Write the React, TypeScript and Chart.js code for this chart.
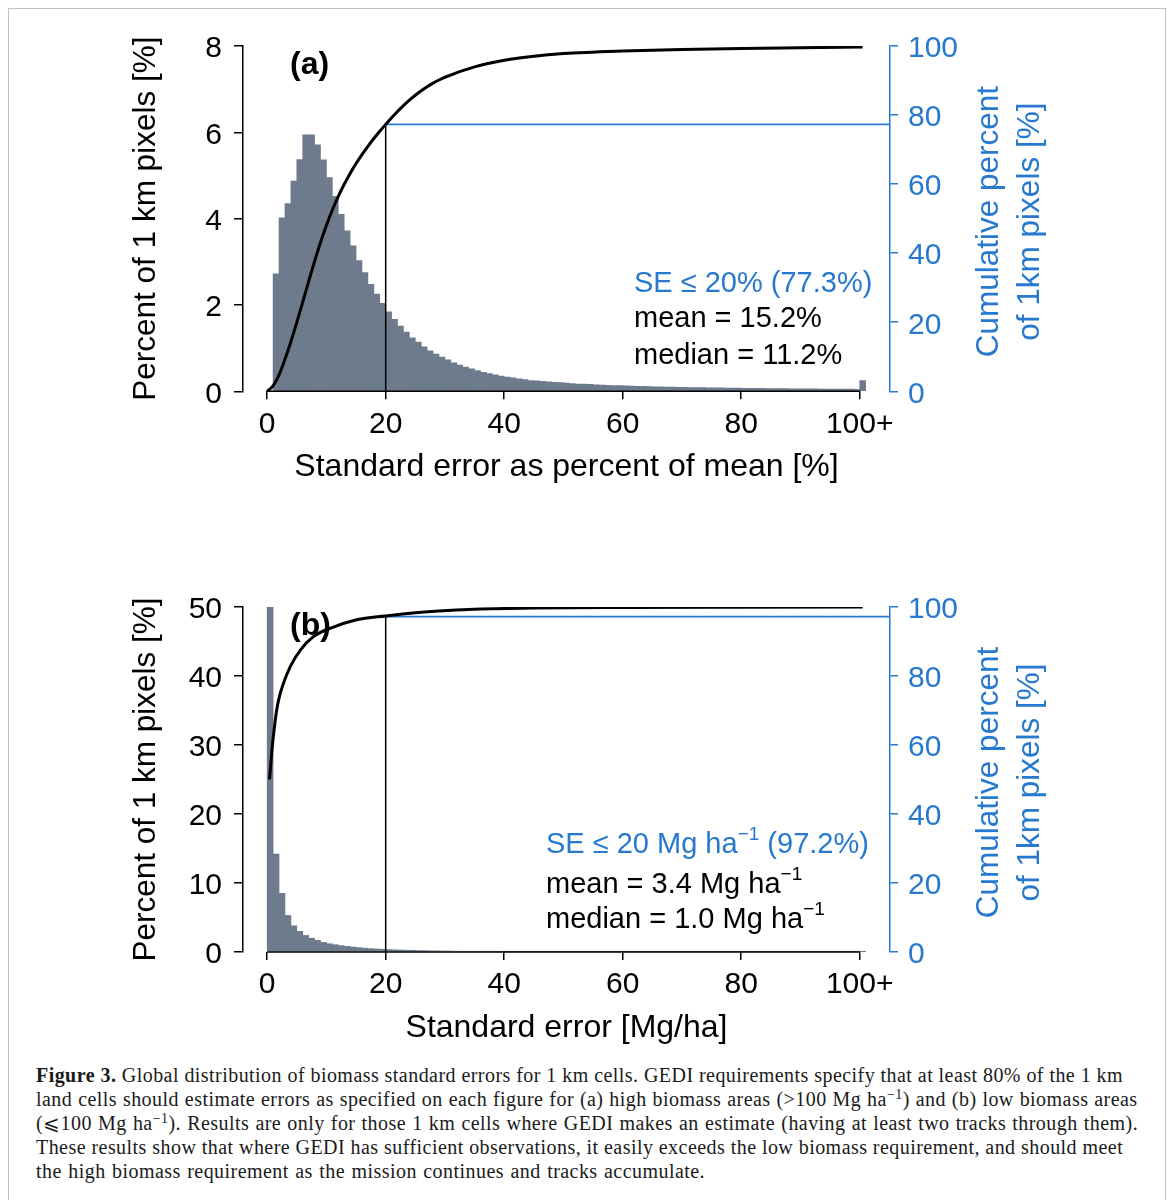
import { useEffect, useRef } from 'react';
import { Chart, registerables } from 'chart.js';

Chart.register(...registerables);

const FONT = '"Liberation Sans", Arial, Helvetica, sans-serif';
const BLUE = '#2679cf';
const BAR = '#6d7b8d';

// ---------- data ----------
const xTicks = [0, 20, 40, 60, 80, 100];
const xTickLabels = ['0', '20', '40', '60', '80', '100+'];
const leftTicksA = [0, 2, 4, 6, 8];
const leftTicksB = [0, 10, 20, 30, 40, 50];
const rightTicks = [0, 20, 40, 60, 80, 100];

// histogram bins (lower edge, width 1); last bin = "100+"
const binsA = Array.from({ length: 100 }, (_, i) => i + 1);
const valsA = [
  2.72, 4.02, 4.35, 4.87, 5.37, 5.94, 5.94, 5.71, 5.36, 4.95,
  4.52, 4.1, 3.72, 3.37, 3.03, 2.75, 2.48, 2.25, 2.04, 1.84,
  1.67, 1.51, 1.37, 1.24, 1.14, 1.03, 0.94, 0.86, 0.79, 0.73,
  0.66, 0.61, 0.56, 0.52, 0.48, 0.44, 0.41, 0.38, 0.35, 0.33,
  0.31, 0.29, 0.27, 0.25, 0.24, 0.23, 0.22, 0.21, 0.2, 0.19,
  0.18, 0.17, 0.165, 0.16, 0.15, 0.145, 0.14, 0.135, 0.13, 0.125,
  0.12, 0.117, 0.113, 0.11, 0.106, 0.103, 0.1, 0.097, 0.094, 0.091,
  0.089, 0.087, 0.085, 0.083, 0.081, 0.079, 0.077, 0.075, 0.073, 0.071,
  0.07, 0.068, 0.067, 0.065, 0.064, 0.062, 0.061, 0.06, 0.058, 0.057,
  0.056, 0.055, 0.054, 0.053, 0.052, 0.051, 0.05, 0.049, 0.048, 0.25,
];
const binsB = Array.from({ length: 101 }, (_, i) => i);
const valsB = [
  50, 14.2, 8.5, 5.3, 3.8, 3.0, 2.4, 2.0, 1.7, 1.4,
  1.2, 1.06, 0.92, 0.82, 0.72, 0.63, 0.55, 0.49, 0.44, 0.4,
  0.36, 0.32, 0.29, 0.26, 0.24, 0.22, 0.2, 0.18, 0.165, 0.15,
  0.14, 0.125, 0.115, 0.105, 0.095, 0.088, 0.08, 0.074, 0.068, 0.062,
  0.057, 0.052, 0.048, 0.044, 0.041, 0.038, 0.035, 0.032, 0.03, 0.028,
  0.026, 0.024, 0.023, 0.022, 0.021, 0.02, 0.019, 0.018, 0.017, 0.016,
  0.015, 0.015, 0.014, 0.014, 0.013, 0.013, 0.012, 0.012, 0.011, 0.011,
  0.01, 0.01, 0.0095, 0.009, 0.009, 0.0085, 0.008, 0.008, 0.0075, 0.007,
  0.007, 0.0065, 0.0065, 0.006, 0.006, 0.006, 0.0055, 0.0055, 0.005, 0.005,
  0.005, 0.005, 0.0045, 0.0045, 0.0045, 0.004, 0.004, 0.004, 0.004, 0.004,
  0.03,
];

// cumulative curves (right axis, %)
const cumAX = [
  0, 1, 2, 3, 4, 5, 6, 7, 8, 9, 10, 11, 12, 13, 14, 15, 16, 17, 18, 19,
  20, 21, 22, 23, 24, 25, 26, 27, 28, 29, 30, 35, 40, 45, 50, 60, 70, 80, 90, 100.5,
];
const cumAY = [
  0, 1.6, 4.75, 9.25, 14.35, 19.95, 25.85, 31.85, 37.65, 43.1, 48.05, 52.5, 56.45, 59.95, 63.1, 65.95, 68.55, 70.95, 73.2, 75.3,
  77.3, 79.22, 81.04, 82.74, 84.31, 85.75, 87.05, 88.21, 89.24, 90.15, 90.95, 93.95, 95.85, 97.05, 97.8, 98.55, 99.0, 99.3, 99.5, 99.7,
];
const cumBX = [0.4, 0.8, 1.1, 1.6, 2.0, 2.75, 3.9, 5.6, 7.8, 10.6, 15.1, 20, 25, 29, 35, 45, 60, 80, 100.5];
const cumBY = [50, 58.5, 63.4, 70.1, 73.6, 77.9, 82.7, 87.5, 91.4, 93.8, 96.3, 97.4, 98.3, 98.85, 99.35, 99.7, 99.87, 99.94, 99.97];

const thresholdA = 20;
const pctA = 77.3;
const thresholdB = 20;
const pctB = 97.2;

// ---------- layout ----------
const X_MIN = -4.08;
const X_MAX = 105.11;
const CANVAS_W = 1171;
const CANVAS_H = 500;

type Seg = { t: string; sup?: boolean };
type Line = { segs: Seg[]; color: string; y: number };

interface PanelCfg {
  label: string;
  bins: number[];
  vals: number[];
  cumX: number[];
  cumY: number[];
  threshold: number;
  pct: number;
  leftTicks: number[];
  leftMax: number;
  xTitle: string;
  statsX: number;
  stats: Line[];
  padBottom: number;
}

const panelA: PanelCfg = {
  label: '(a)',
  bins: binsA,
  vals: valsA,
  cumX: cumAX,
  cumY: cumAY,
  threshold: thresholdA,
  pct: pctA,
  leftTicks: leftTicksA,
  leftMax: 8,
  xTitle: 'Standard error as percent of mean [%]',
  statsX: 634,
  stats: [
    { segs: [{ t: 'SE ≤ 20% (77.3%)' }], color: BLUE, y: 291.7 },
    { segs: [{ t: 'mean = 15.2%' }], color: '#000', y: 327.3 },
    { segs: [{ t: 'median = 11.2%' }], color: '#000', y: 364 },
  ],
  padBottom: 13.7,
};

const panelB: PanelCfg = {
  label: '(b)',
  bins: binsB,
  vals: valsB,
  cumX: cumBX,
  cumY: cumBY,
  threshold: thresholdB,
  pct: pctB,
  leftTicks: leftTicksB,
  leftMax: 50,
  xTitle: 'Standard error [Mg/ha]',
  statsX: 546,
  stats: [
    { segs: [{ t: 'SE ≤ 20 Mg ha' }, { t: '−1', sup: true }, { t: ' (97.2%)' }], color: BLUE, y: 292.3 },
    { segs: [{ t: 'mean = 3.4 Mg ha' }, { t: '−1', sup: true }], color: '#000', y: 331.7 },
    { segs: [{ t: 'median = 1.0 Mg ha' }, { t: '−1', sup: true }], color: '#000', y: 366.7 },
  ],
  padBottom: 14,
};

function makeChart(canvas: HTMLCanvasElement, p: PanelCfg) {
  const decor = {
    id: 'decor',
    afterDatasetsDraw(chart: any) {
      const { ctx, chartArea } = chart;
      const xs = chart.scales.x;
      ctx.save();
      // x axis spine from 0 to 100
      ctx.strokeStyle = '#000';
      ctx.lineWidth = 1.5;
      ctx.beginPath();
      ctx.moveTo(xs.getPixelForValue(xTicks[0]), chartArea.bottom);
      ctx.lineTo(xs.getPixelForValue(xTicks[xTicks.length - 1]), chartArea.bottom);
      ctx.stroke();
      // panel label
      ctx.fillStyle = '#000';
      ctx.font = `bold 32px ${FONT}`;
      ctx.textBaseline = 'alphabetic';
      ctx.textAlign = 'left';
      ctx.fillText(p.label, 290, chartArea.top + 28);
      // stats
      for (const line of p.stats) {
        let x = p.statsX;
        ctx.fillStyle = line.color;
        for (const s of line.segs) {
          if (s.sup) {
            ctx.font = `19px ${FONT}`;
            ctx.fillText(s.t, x, line.y - 13);
          } else {
            ctx.font = `29px ${FONT}`;
            ctx.fillText(s.t, x, line.y);
          }
          x += ctx.measureText(s.t).width;
        }
      }
      // right axis title
      const cy = (chartArea.top + chartArea.bottom) / 2 + 3;
      ctx.fillStyle = BLUE;
      ctx.font = `31.5px ${FONT}`;
      ctx.textAlign = 'center';
      const titleLines = ['Cumulative percent', 'of 1km pixels [%]'];
      const bx = [998, 1039];
      titleLines.forEach((t, i) => {
        ctx.save();
        ctx.translate(bx[i], cy);
        ctx.rotate(-Math.PI / 2);
        ctx.fillText(t, 0, 0);
        ctx.restore();
      });
      ctx.restore();
    },
  };

  return new Chart(canvas, {
    type: 'bar',
    data: {
      datasets: [
        {
          type: 'line',
          data: p.cumX.map((x, i) => ({ x, y: p.cumY[i] })),
          yAxisID: 'y2',
          borderColor: '#000',
          borderWidth: 3,
          pointRadius: 0,
          cubicInterpolationMode: 'monotone',
          fill: false,
          order: 1,
        } as any,
        {
          type: 'line',
          data: [
            { x: p.threshold, y: 0 },
            { x: p.threshold, y: p.pct },
          ],
          yAxisID: 'y2',
          borderColor: '#000',
          borderWidth: 1.5,
          pointRadius: 0,
          fill: false,
          order: 2,
        } as any,
        {
          type: 'line',
          data: [
            { x: p.threshold, y: p.pct },
            { x: X_MAX, y: p.pct },
          ],
          yAxisID: 'y2',
          borderColor: BLUE,
          borderWidth: 1.8,
          pointRadius: 0,
          fill: false,
          order: 2,
        } as any,
        {
          type: 'bar',
          data: p.bins.map((b, i) => ({ x: b + 0.5, y: p.vals[i] })),
          yAxisID: 'y',
          backgroundColor: BAR,
          borderWidth: 0,
          barPercentage: 1,
          categoryPercentage: 1,
          order: 5,
        } as any,
      ],
    },
    options: {
      responsive: false,
      animation: false,
      devicePixelRatio: 1,
      layout: { padding: { left: 0, right: 0, top: 46, bottom: p.padBottom } },
      plugins: { legend: { display: false }, tooltip: { enabled: false } },
      scales: {
        x: {
          type: 'linear',
          position: 'bottom',
          min: X_MIN,
          max: X_MAX,
          offset: false,
          grid: {
            display: true,
            drawOnChartArea: false,
            drawTicks: true,
            tickLength: 8,
            color: '#000',
            lineWidth: 1.5,
            offset: false,
          },
          border: { display: false },
          ticks: {
            color: '#000',
            font: { family: FONT, size: 30 },
            padding: 7,
            autoSkip: false,
            maxRotation: 0,
            callback: (v: any) => {
              const i = xTicks.indexOf(Number(v));
              return i >= 0 ? xTickLabels[i] : '';
            },
          },
          afterBuildTicks: (s: any) => {
            s.ticks = xTicks.map((v) => ({ value: v }));
          },
          afterFit: (s: any) => {
            s.height = 95;
          },
          title: {
            display: true,
            text: p.xTitle,
            color: '#000',
            font: { family: FONT, size: 32 },
            padding: { top: 0, bottom: 0 },
          },
        } as any,
        y: {
          type: 'linear',
          position: 'left',
          min: 0,
          max: p.leftMax,
          grid: {
            display: true,
            drawOnChartArea: false,
            drawTicks: true,
            tickLength: 9,
            color: '#000',
            lineWidth: 1.5,
          },
          border: { display: true, color: '#000', width: 1.5 },
          ticks: {
            color: '#000',
            font: { family: FONT, size: 30 },
            padding: 12,
            labelOffset: 3,
            autoSkip: false,
          },
          afterBuildTicks: (s: any) => {
            s.ticks = p.leftTicks.map((v) => ({ value: v }));
          },
          afterFit: (s: any) => {
            s.width = 243;
          },
          title: {
            display: true,
            text: 'Percent of 1 km pixels [%]',
            color: '#000',
            font: { family: FONT, size: 31.5 },
            padding: { top: 127, bottom: 0 },
          },
        } as any,
        y2: {
          type: 'linear',
          position: 'right',
          min: 0,
          max: 100,
          grid: {
            display: true,
            drawOnChartArea: false,
            drawTicks: true,
            tickLength: 8,
            color: BLUE,
            lineWidth: 1.5,
          },
          border: { display: true, color: BLUE, width: 1.5 },
          ticks: {
            color: BLUE,
            font: { family: FONT, size: 30 },
            padding: 10,
            labelOffset: 3,
            autoSkip: false,
          },
          afterBuildTicks: (s: any) => {
            s.ticks = rightTicks.map((v) => ({ value: v }));
          },
          afterFit: (s: any) => {
            s.width = CANVAS_W - 890;
          },
        } as any,
      },
    },
    plugins: [decor],
  } as any);
}

function Panel({ cfg, top }: { cfg: PanelCfg; top: number }) {
  const ref = useRef<HTMLCanvasElement | null>(null);
  useEffect(() => {
    if (!ref.current) return;
    const chart = makeChart(ref.current, cfg);
    return () => chart.destroy();
  }, [cfg]);
  return (
    <canvas
      ref={ref}
      width={CANVAS_W}
      height={CANVAS_H}
      style={{ position: 'absolute', left: 0, top, width: CANVAS_W, height: CANVAS_H }}
    />
  );
}

const sup = (t: string) => (
  <sup style={{ fontSize: 14, lineHeight: 0, verticalAlign: 'baseline', position: 'relative', top: -7 }}>{t}</sup>
);

export default function App() {
  return (
    <div
      style={{
        position: 'absolute',
        left: 0,
        top: 0,
        width: 1171,
        height: 1200,
        overflow: 'hidden',
        background: '#fff',
      }}
    >
      <div
        style={{
          position: 'absolute',
          left: 8,
          top: 8,
          width: 1158,
          height: 1260,
          border: '1px solid #c2c2c2',
          boxSizing: 'border-box',
        }}
      />
      <Panel cfg={panelA} top={0} />
      <Panel cfg={panelB} top={561} />
      <div
        style={{
          position: 'absolute',
          left: 36,
          top: 1063,
          fontFamily: '"Liberation Serif", "Times New Roman", serif',
          fontSize: 20,
          letterSpacing: '0.45px',
          lineHeight: '24px',
          color: '#1a1a1a',
          whiteSpace: 'nowrap',
        }}
      >
        <div>
          <b>Figure 3.</b> Global distribution of biomass standard errors for 1 km cells. GEDI requirements specify that at least 80% of the 1 km
        </div>
        <div style={{ wordSpacing: '0.45px' }}>
          land cells should estimate errors as specified on each figure for (a) high biomass areas (&gt;100 Mg ha{sup('−1')}) and (b) low biomass areas
        </div>
        <div style={{ wordSpacing: '0.7px' }}>
          (⩽100 Mg ha{sup('−1')}). Results are only for those 1 km cells where GEDI makes an estimate (having at least two tracks through them).
        </div>
        <div>
          These results show that where GEDI has sufficient observations, it easily exceeds the low biomass requirement, and should meet
        </div>
        <div style={{ wordSpacing: '1px' }}>the high biomass requirement as the mission continues and tracks accumulate.</div>
      </div>
    </div>
  );
}
